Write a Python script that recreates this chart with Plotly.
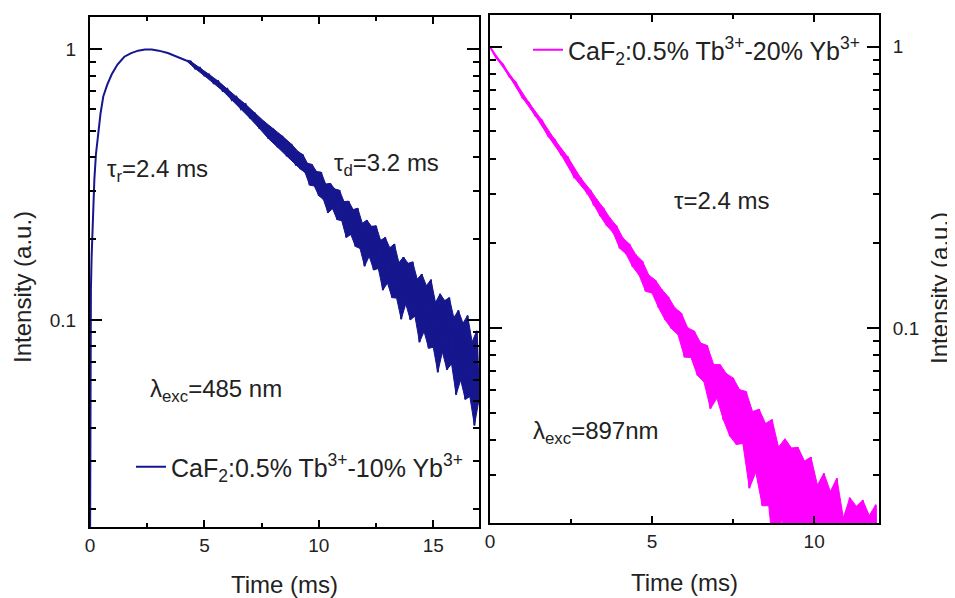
import plotly.graph_objects as go

# ---------------- data ----------------
left_time = [0, 0.02, 0.04, 0.07, 0.10, 0.14, 0.19, 0.26, 0.36, 0.46, 0.58, 0.75, 0.95, 1.2, 1.5, 1.8,
             2.1, 2.4, 2.7, 3.0, 3.4, 3.8, 4.2,
             4.4, 4.6, 4.8, 5.0, 5.2, 5.4, 5.6, 5.8, 6.0, 6.2, 6.4, 6.6, 6.8, 7.0, 7.2, 7.4, 7.6, 7.8,
             8.0, 8.2, 8.4, 8.6, 8.8, 9.0,
             9.1, 9.2, 9.3, 9.4, 9.5, 9.6, 9.7, 9.8, 9.9, 10.0,
             10.1, 10.2, 10.3, 10.4, 10.5, 10.6, 10.7, 10.8, 10.9, 11.0,
             11.1, 11.2, 11.3, 11.4, 11.5, 11.6, 11.7, 11.8, 11.9, 12.0,
             12.1, 12.2, 12.3, 12.4, 12.5, 12.6, 12.7, 12.8, 12.9, 13.0,
             13.1, 13.2, 13.3, 13.4, 13.5, 13.6, 13.7, 13.8, 13.9, 14.0,
             14.1, 14.2, 14.3, 14.4, 14.5, 14.6, 14.7, 14.8, 14.9, 15.0,
             15.1, 15.2, 15.3, 15.4, 15.5, 15.6, 15.7, 15.8, 15.9, 16.0,
             16.1, 16.2, 16.3, 16.4, 16.5, 16.6, 16.7, 16.8, 16.9, 17.0]
left_intensity = [0.0125, 0.08, 0.13, 0.17, 0.20, 0.26, 0.33, 0.41, 0.50, 0.58, 0.67, 0.74, 0.81, 0.88, 0.94, 0.97,
                  0.99, 1.0, 1.0, 0.99, 0.97, 0.94, 0.91,
                  0.904, 0.849, 0.857, 0.800, 0.809, 0.751, 0.764, 0.703, 0.715, 0.650, 0.668, 0.603, 0.627, 0.556,
                  0.583, 0.511, 0.543, 0.468, 0.509, 0.435, 0.479, 0.403, 0.447, 0.372,
                  0.419, 0.361, 0.409, 0.351, 0.380, 0.315, 0.376, 0.313, 0.354, 0.288,
                  0.352, 0.279, 0.318, 0.249, 0.320, 0.258, 0.305, 0.235, 0.302, 0.233,
                  0.274, 0.202, 0.275, 0.207, 0.256, 0.187, 0.259, 0.184, 0.228, 0.158,
                  0.234, 0.172, 0.222, 0.153, 0.223, 0.155, 0.197, 0.129, 0.202, 0.137,
                  0.185, 0.121, 0.191, 0.1205, 0.163, 0.1007, 0.171, 0.1146, 0.162, 0.1002,
                  0.164, 0.1033, 0.1416, 0.0828, 0.148, 0.0906, 0.134, 0.0786, 0.141, 0.0793,
                  0.116, 0.0641, 0.125, 0.0762, 0.118, 0.0655, 0.121, 0.0689, 0.102, 0.053,
                  0.1086, 0.060, 0.0973, 0.0509, 0.104, 0.0521, 0.083, 0.0408, 0.0912, 0.0507]
left_noise_start = 22   # index where the noisy (up/down alternating) part of the left trace begins

right_time = [0, 0.2, 0.4, 0.6, 0.8, 1.0, 1.2, 1.4, 1.6, 1.8, 2.0, 2.2, 2.4, 2.6, 2.8, 3.0,
              3.1, 3.2, 3.3, 3.4, 3.5, 3.6, 3.7, 3.8, 3.9, 4.0,
              4.1, 4.2, 4.3, 4.4, 4.5, 4.6, 4.7, 4.8, 4.9, 5.0,
              5.1, 5.2, 5.3, 5.4, 5.5, 5.6, 5.7, 5.8, 5.9, 6.0,
              6.1, 6.2, 6.3, 6.4, 6.5, 6.6, 6.7, 6.8, 6.9, 7.0,
              7.1, 7.2, 7.3, 7.4, 7.5, 7.6, 7.7, 7.8, 7.9, 8.0,
              8.1, 8.2, 8.3, 8.4, 8.5, 8.6, 8.7, 8.8, 8.9, 9.0,
              9.1, 9.2, 9.3, 9.4, 9.5, 9.6, 9.7, 9.8, 9.9, 10.0,
              10.1, 10.2, 10.3, 10.4, 10.5, 10.6, 10.7, 10.8, 10.9, 11.0,
              11.1, 11.2, 11.3, 11.4, 11.5, 11.6, 11.7, 11.8, 11.9, 12.0]
right_intensity = [1.0, 0.912, 0.866, 0.783, 0.745, 0.659, 0.633, 0.568, 0.548, 0.480, 0.467, 0.412, 0.405,
                   0.343, 0.341, 0.301,
                   0.309, 0.273, 0.286, 0.250, 0.267, 0.231, 0.246, 0.218, 0.231, 0.192,
                   0.209, 0.183, 0.199, 0.165, 0.182, 0.154, 0.173, 0.135, 0.154, 0.133,
                   0.148, 0.118, 0.137, 0.107, 0.129, 0.0994, 0.118, 0.0946, 0.113, 0.0787,
                   0.100, 0.0785, 0.0975, 0.0677, 0.0883, 0.0643, 0.0866, 0.0516, 0.0741, 0.0562,
                   0.0740, 0.0471, 0.0686, 0.0412, 0.0664, 0.0385, 0.0603, 0.0388, 0.0594, 0.0269,
                   0.0504, 0.0306, 0.0514, 0.0233, 0.0457, 0.0233, 0.0472, 0.0137, 0.0377, 0.0211,
                   0.0403, 0.0147, 0.0374, 0.0112, 0.0376, 0.0107, 0.0336, 0.0132, 0.0347, 0.0032,
                   0.0276, 0.0087, 0.0304, 0.0031, 0.0262, 0.0046, 0.0292, 0.002, 0.0211, 0.0051,
                   0.0249, 0.002, 0.0232, 0.002, 0.0244, 0.002, 0.0215, 0.002, 0.0235, 0.002]
right_noise_start = 0

left_name = "CaF<sub>2</sub>:0.5% Tb<sup>3+</sup>-10% Yb<sup>3+</sup>"
right_name = "CaF<sub>2</sub>:0.5% Tb<sup>3+</sup>-20% Yb<sup>3+</sup>"
left_xticks = [0, 5, 10, 15]
right_xticks = [0, 5, 10]
x_minor_left = [2.5, 7.5, 12.5]
x_minor_right = [2.5, 7.5]
y_ticks = [0.1, 1]
y_ticktext = ["0.1", "1"]
y_minor = [0.02, 0.03, 0.04, 0.05, 0.06, 0.07, 0.08, 0.09, 0.2, 0.3, 0.4, 0.5, 0.6, 0.7, 0.8, 0.9]

LEFT_COLOR = "#16168e"
RIGHT_COLOR = "#ff00ff"

# ---------------- figure ----------------
# the page body adds an 8 px offset, so the figure is drawn 8 px smaller and
# all layout positions below are given in window pixels minus that offset
OFF = 8
W, H = 955 - OFF, 598 - OFF
FONT = "Liberation Sans, Arial, sans-serif"
TXT = "#222222"

fig = go.Figure()


def band_polygon(t, v, start):
    """Noise band outline: the upper (peak) samples forward, then the lower samples backward."""
    up_t, up_v = t[start::2], v[start::2]
    lo_t, lo_v = t[start + 1::2], v[start + 1::2]
    return list(up_t) + list(lo_t[::-1]), list(up_v) + list(lo_v[::-1])


for t, v, s, col, xa, ya in [
    (left_time, left_intensity, left_noise_start, LEFT_COLOR, "x", "y"),
    (right_time, right_intensity, right_noise_start, RIGHT_COLOR, "x2", "y2"),
]:
    bx, by = band_polygon(t, v, s)
    fig.add_trace(go.Scatter(x=bx, y=by, mode="lines", fill="toself", fillcolor=col,
                             line=dict(color=col, width=1), xaxis=xa, yaxis=ya,
                             showlegend=False, hoverinfo="skip"))

fig.add_trace(go.Scatter(x=left_time, y=left_intensity, mode="lines", name=left_name,
                         line=dict(color=LEFT_COLOR, width=2), xaxis="x", yaxis="y",
                         legend="legend"))
fig.add_trace(go.Scatter(x=right_time, y=right_intensity, mode="lines", name=right_name,
                         line=dict(color=RIGHT_COLOR, width=2), xaxis="x2", yaxis="y2",
                         legend="legend2"))


def px(x):
    return (x - OFF) / W


def py(y):
    return 1 - (y - OFF) / H


common_x = dict(ticks="inside", ticklen=7, tickwidth=1.5, tickcolor="black",
                showline=True, linecolor="black", linewidth=2, mirror="ticks",
                showgrid=False, zeroline=False, automargin=False,
                tickfont=dict(family=FONT, size=19, color=TXT))
common_y = dict(type="log", ticks="inside", ticklen=12, tickwidth=1.5, tickcolor="black",
                showline=True, linecolor="black", linewidth=2, mirror="ticks",
                showgrid=False, zeroline=False, tickvals=y_ticks, ticktext=y_ticktext,
                ticklabelstandoff=8, automargin=False,
                tickfont=dict(family=FONT, size=19, color=TXT),
                minor=dict(tickvals=y_minor, ticks="inside", ticklen=6, tickwidth=1.5,
                           tickcolor="black", showgrid=False))

fig.update_layout(
    width=W, height=H,
    margin=dict(l=0, r=0, t=0, b=0, autoexpand=False),
    paper_bgcolor="white", plot_bgcolor="white",
    xaxis=dict(domain=[px(90), px(479)], range=[0, 17], anchor="y", tickvals=left_xticks,
               ticklabelstandoff=0,
               minor=dict(tickvals=x_minor_left, ticks="inside", ticklen=4, tickwidth=1.5,
                          tickcolor="black", showgrid=False), **common_x),
    yaxis=dict(domain=[py(527), py(17)], range=[-1.765, 0.12], anchor="x", side="left", **common_y),
    xaxis2=dict(domain=[px(490), px(879)], range=[0, 12], anchor="y2", tickvals=right_xticks,
                ticklabelstandoff=0,
                minor=dict(tickvals=x_minor_right, ticks="inside", ticklen=4, tickwidth=1.5,
                           tickcolor="black", showgrid=False), **common_x),
    yaxis2=dict(domain=[py(523), py(15)], range=[-1.694, 0.113], anchor="x2", side="right", **common_y),
    legend=dict(x=px(131), y=py(467), xanchor="left", yanchor="middle",
                bgcolor="rgba(0,0,0,0)", font=dict(family=FONT, size=25, color=TXT)),
    legend2=dict(x=px(528), y=py(50), xanchor="left", yanchor="middle",
                 bgcolor="rgba(0,0,0,0)", font=dict(family=FONT, size=25, color=TXT)),
    showlegend=True,
)

ann_font = dict(family=FONT, size=24, color=TXT)
annotations = [
    dict(text="τ<sub>r</sub>=2.4 ms", x=px(105), y=py(171)),
    dict(text="τ<sub>d</sub>=3.2 ms", x=px(332), y=py(164)),
    dict(text="λ<sub>exc</sub>=485 nm", x=px(148), y=py(390)),
    dict(text="τ=2.4 ms", x=px(672), y=py(200)),
    dict(text="λ<sub>exc</sub>=897nm", x=px(531), y=py(432)),
]
for a in annotations:
    fig.add_annotation(xref="paper", yref="paper", xanchor="left", yanchor="middle",
                       showarrow=False, font=ann_font, **a)

title_font = dict(family=FONT, size=24, color=TXT)
fig.add_annotation(text="Time (ms)", xref="paper", yref="paper", x=px(284.5), y=py(584),
                   xanchor="center", yanchor="middle", showarrow=False, font=title_font)
fig.add_annotation(text="Time (ms)", xref="paper", yref="paper", x=px(684.5), y=py(582),
                   xanchor="center", yanchor="middle", showarrow=False, font=title_font)
fig.add_annotation(text="Intensity (a.u.)", xref="paper", yref="paper", x=px(22), y=py(287),
                   xanchor="center", yanchor="middle", textangle=-90, showarrow=False, font=title_font)
fig.add_annotation(text="Intensity (a.u.)", xref="paper", yref="paper", x=px(939), y=py(288),
                   xanchor="center", yanchor="middle", textangle=-90, showarrow=False, font=title_font)

fig.write_html("out.html")
